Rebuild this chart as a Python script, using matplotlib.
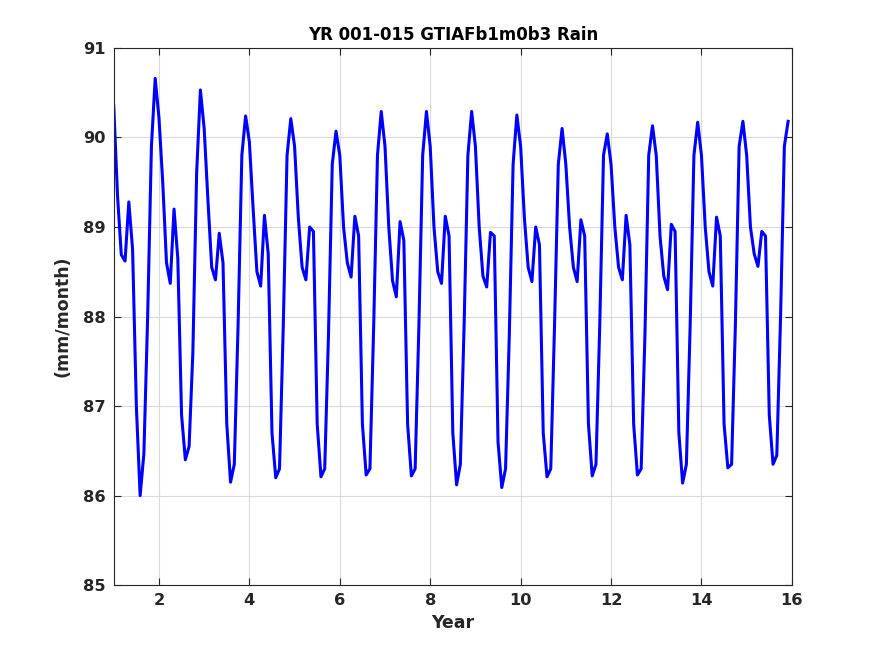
import numpy as np
import matplotlib
matplotlib.use('Agg')
import matplotlib.pyplot as plt

# monthly rain, one row per model year (Jan..Dec)
rain_by_year = [
    [90.35, 89.35, 88.69, 88.62, 89.28, 88.75, 87.00, 86.00, 86.47, 88.00, 89.90, 90.66],
    [90.22, 89.50, 88.60, 88.37, 89.20, 88.65, 86.90, 86.40, 86.55, 87.60, 89.60, 90.53],
    [90.10, 89.30, 88.55, 88.41, 88.93, 88.60, 86.80, 86.15, 86.35, 87.90, 89.80, 90.24],
    [89.95, 89.20, 88.50, 88.34, 89.13, 88.70, 86.70, 86.20, 86.30, 87.90, 89.80, 90.21],
    [89.90, 89.10, 88.55, 88.41, 89.00, 88.95, 86.80, 86.21, 86.30, 87.80, 89.70, 90.07],
    [89.80, 89.00, 88.60, 88.44, 89.12, 88.90, 86.80, 86.23, 86.30, 87.90, 89.80, 90.29],
    [89.90, 89.00, 88.40, 88.22, 89.06, 88.85, 86.80, 86.22, 86.30, 87.90, 89.80, 90.29],
    [89.90, 89.00, 88.50, 88.37, 89.12, 88.90, 86.70, 86.12, 86.35, 87.90, 89.80, 90.29],
    [89.90, 89.00, 88.45, 88.33, 88.94, 88.90, 86.60, 86.09, 86.30, 87.80, 89.70, 90.25],
    [89.90, 89.10, 88.55, 88.39, 89.00, 88.80, 86.70, 86.21, 86.30, 87.90, 89.70, 90.10],
    [89.70, 89.00, 88.55, 88.39, 89.08, 88.90, 86.80, 86.22, 86.35, 87.90, 89.80, 90.04],
    [89.70, 89.00, 88.55, 88.41, 89.13, 88.80, 86.80, 86.23, 86.30, 87.80, 89.80, 90.13],
    [89.80, 88.90, 88.45, 88.30, 89.03, 88.95, 86.70, 86.14, 86.35, 87.90, 89.80, 90.17],
    [89.80, 89.00, 88.50, 88.34, 89.11, 88.90, 86.80, 86.31, 86.35, 87.90, 89.90, 90.18],
    [89.80, 89.00, 88.70, 88.56, 88.95, 88.90, 86.90, 86.35, 86.45, 88.00, 89.90, 90.18],
]
first_year = 1
x_ticks = [2, 4, 6, 8, 10, 12, 14, 16]
y_ticks = [85, 86, 87, 88, 89, 90, 91]

rain = np.array(rain_by_year).ravel()
t = first_year + np.arange(rain.size) / 12.0

TXT = '#262626'
plt.rcParams['font.family'] = 'DejaVu Sans'
plt.rcParams['font.weight'] = 'bold'

fig = plt.figure(figsize=(8.75, 6.56), dpi=100)
ax = fig.add_axes([0.130, 0.108, 0.775, 0.819])

ax.plot(t, rain, color='#0000ff', lw=2.2, solid_joinstyle='round')

ax.set_xlim(1, 16)
ax.set_ylim(85, 91)
ax.set_xticks(x_ticks)
ax.set_yticks(y_ticks)
ax.grid(True, color='#d9d9d9', lw=0.8)
ax.set_axisbelow(True)
ax.tick_params(direction='in', length=5, width=0.8, colors=TXT,
               labelsize=11.7, top=True, right=True, pad=6)
for lab in ax.get_xticklabels() + ax.get_yticklabels():
    lab.set_fontweight('bold')
for sp in ax.spines.values():
    sp.set_color(TXT)
    sp.set_linewidth(0.8)

ax.set_xlabel('Year', fontsize=12.5, fontweight='bold', color=TXT, labelpad=4)
ax.set_ylabel('(mm/month)', fontsize=12.5, fontweight='bold', color=TXT, labelpad=8)
ax.set_title('YR 001-015 GTIAFb1m0b3 Rain', fontsize=12, fontweight='bold',
             color='black', pad=6)

fig.savefig('out.png', dpi=100, facecolor='white')
